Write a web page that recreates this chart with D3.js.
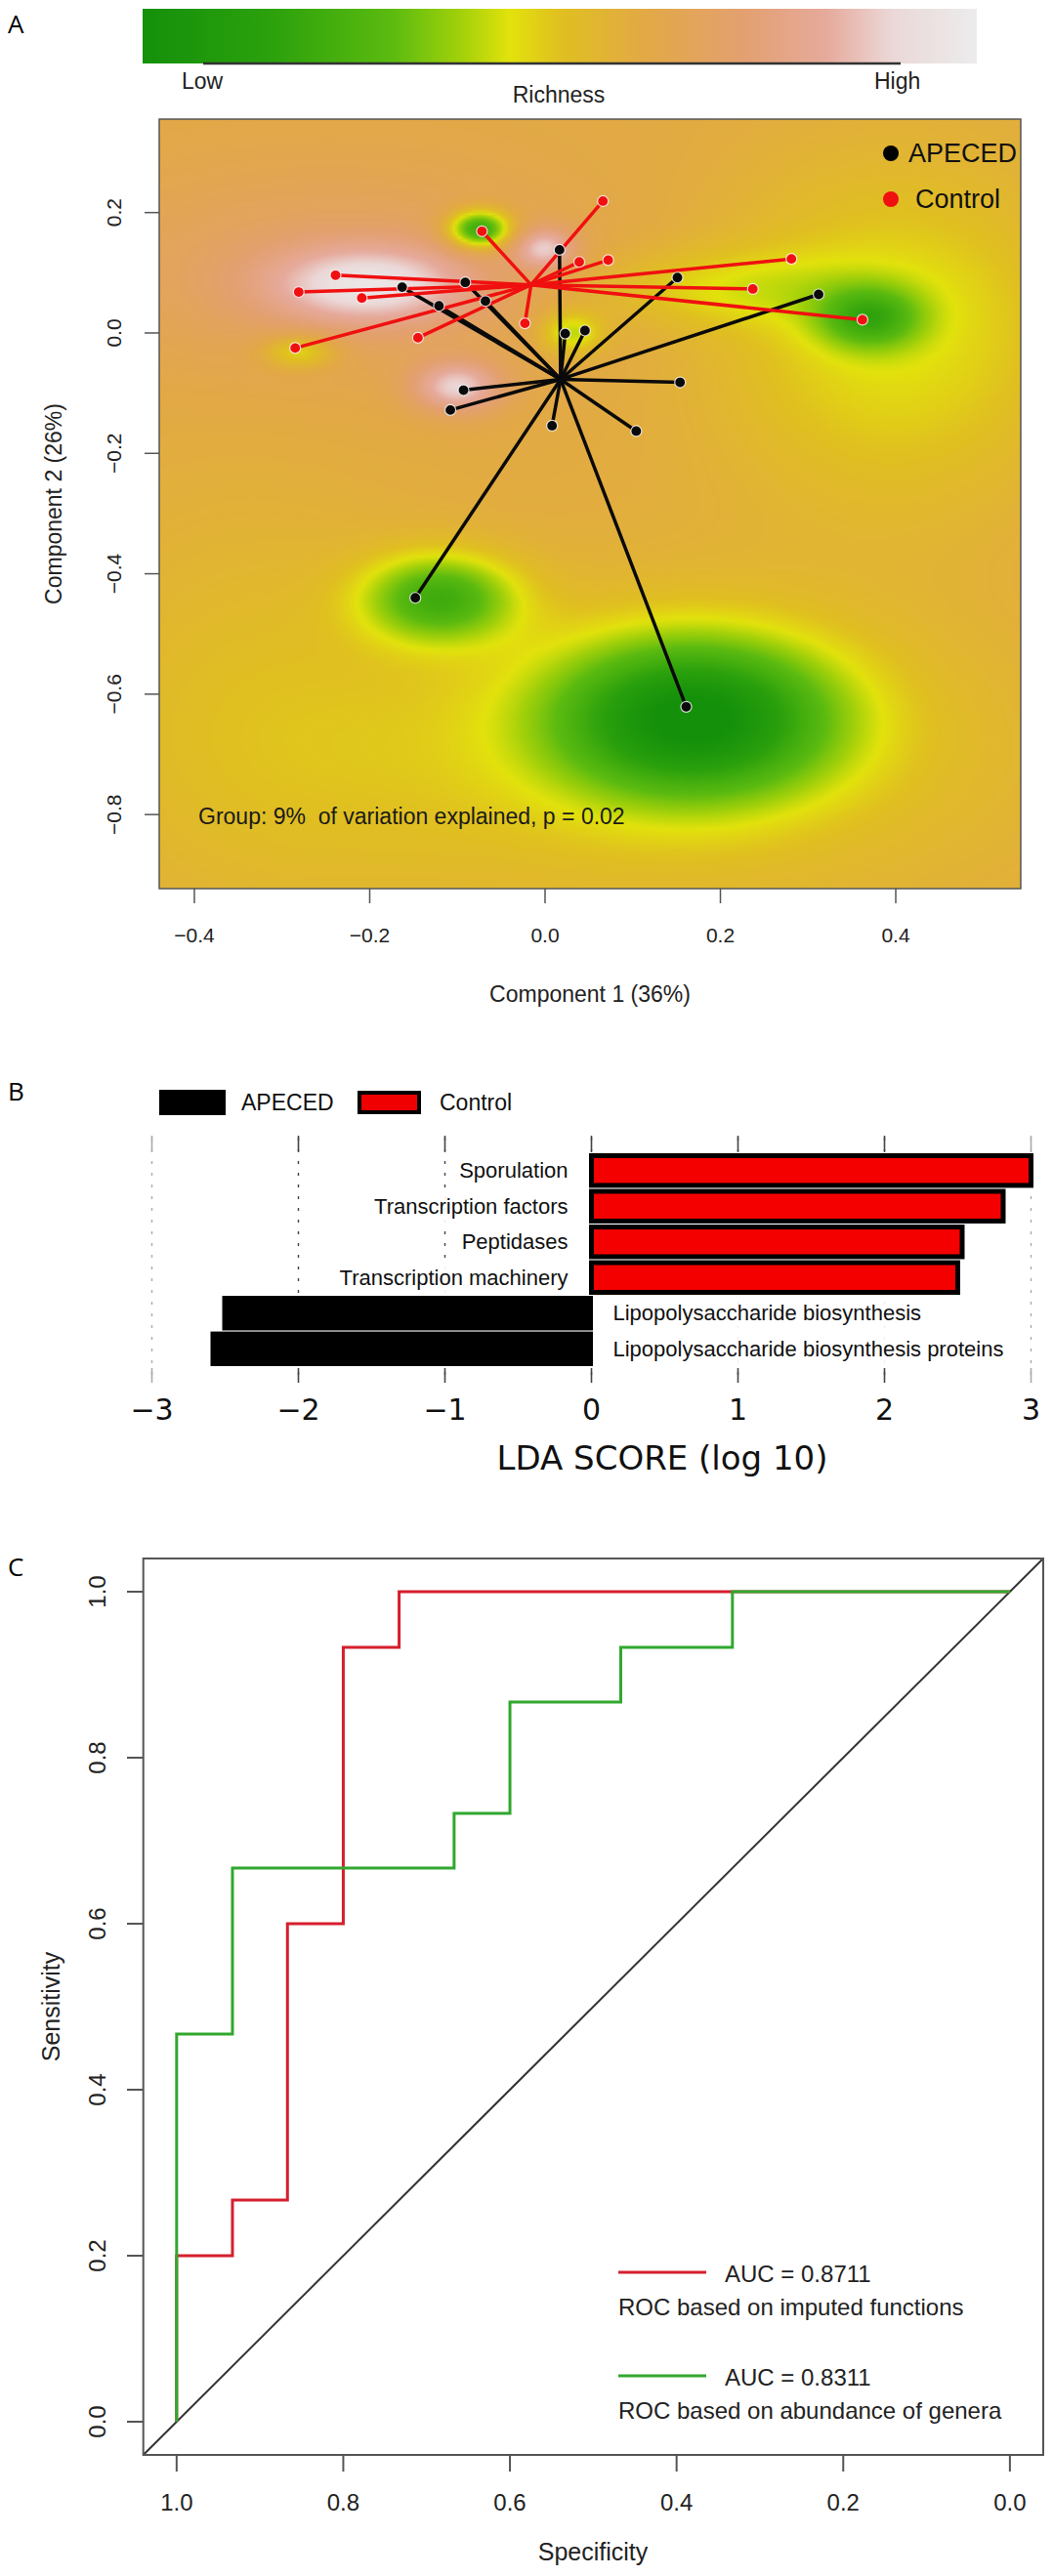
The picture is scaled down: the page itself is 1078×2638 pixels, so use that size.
<!DOCTYPE html>
<html><head><meta charset="utf-8">
<script src="https://cdn.jsdelivr.net/npm/d3@7"></script>
<style>body{margin:0;background:#fff} svg{display:block}</style>
</head><body>
<svg id="fig" width="1078" height="2638"></svg>
<script>
// ================= DATA =================
// Panel A : PCoA of imputed functions
const richnessLabels = ["Low", "Richness", "High"];
const richnessStops  = [0, 0.15, 0.3, 0.38, 0.44, 0.5, 0.6, 0.72, 0.82, 0.9, 1];
const richnessColors = ["#14900a", "#2aa00c", "#5cbb10", "#a0d00a", "#e2e20c", "#e0c020", "#e2a945", "#e3a070", "#e6aa9c", "#ebd8d8", "#ececec"];
const pcoaXTicks = [-0.4, -0.2, 0.0, 0.2, 0.4];
const pcoaYTicks = [0.2, 0.0, -0.2, -0.4, -0.6, -0.8];
const apecedX = [0.0165, 0.023, 0.0455, -0.093, -0.108, 0.008, -0.163, -0.091, -0.121, -0.068, 0.151, 0.312, 0.154, -0.148, 0.161, 0.104];
const apecedY = [0.138, -0.001, 0.004, -0.095, -0.128, -0.154, 0.076, 0.084, 0.045, 0.053, 0.092, 0.064, -0.082, -0.440, -0.621, -0.163];
const controlX = [-0.072, 0.066, -0.239, -0.281, -0.209, -0.285, -0.145, -0.023, 0.039, 0.072, 0.281, 0.237, 0.362];
const controlY = [0.169, 0.219, 0.096, 0.068, 0.058, -0.025, -0.008, 0.016, 0.118, 0.121, 0.123, 0.073, 0.022];
const apecedCentroid  = [0.0177, -0.077];
const controlCentroid = [-0.016, 0.080];
const pcoaNote = "Group: 9%\u00a0 of variation explained, p = 0.02";
// richness surface: base level + bumps (x, y, spreadX, spreadY, amplitude)
const richnessBase = 0.6;
const bumpX   = [-0.25, 0.40, 0.10, -0.35, -0.20, 0.00, -0.10, -0.075, 0.37, 0.20, -0.28, 0.03, -0.12, 0.17];
const bumpY   = [0.10, 0.00, -0.70, -0.60, 0.08, 0.14, -0.09, 0.172, 0.025, 0.075, -0.03, 0.00, -0.44, -0.64];
const bumpSX  = [0.20, 0.15, 0.35, 0.15, 0.08, 0.025, 0.035, 0.025, 0.04, 0.12, 0.03, 0.025, 0.06, 0.11];
const bumpSY  = [0.12, 0.20, 0.20, 0.30, 0.045, 0.025, 0.03, 0.022, 0.035, 0.045, 0.02, 0.025, 0.05, 0.09];
const bumpAmp = [0.10, -0.16, -0.12, -0.05, 0.28, 0.25, 0.28, -0.45, -0.26, -0.11, -0.18, -0.20, -0.33, -0.52];

// Panel B : LEfSe
const ldaFeatures = ["Sporulation", "Transcription factors", "Peptidases", "Transcription machinery", "Lipopolysaccharide biosynthesis", "Lipopolysaccharide biosynthesis proteins"];
const ldaScores = [3.00, 2.81, 2.53, 2.50, -2.52, -2.60];
const ldaGroups = ["Control", "Control", "Control", "Control", "APECED", "APECED"];
const ldaTicks = [-3, -2, -1, 0, 1, 2, 3];
const groupNames = ["APECED", "Control"];

// Panel C : ROC curves
const rocTicks = [1.0, 0.8, 0.6, 0.4, 0.2, 0.0];
const rocFuncSpec = [1, 1, 0.933, 0.933, 0.867, 0.867, 0.8, 0.8, 0.733, 0.733, 0];
const rocFuncSens = [0, 0.2, 0.2, 0.267, 0.267, 0.6, 0.6, 0.933, 0.933, 1, 1];
const rocGenSpec = [1, 1, 0.933, 0.933, 0.667, 0.667, 0.6, 0.6, 0.467, 0.467, 0.333, 0.333, 0];
const rocGenSens = [0, 0.467, 0.467, 0.667, 0.667, 0.733, 0.733, 0.867, 0.867, 0.933, 0.933, 1, 1];
const rocLegend = [
  {auc: "AUC = 0.8711", desc: "ROC based on imputed functions"},
  {auc: "AUC = 0.8311", desc: "ROC based on abundance of genera"}
];

// ================= DRAW =================
const svg = d3.select("#fig");
const SANS = "'Liberation Sans', Arial, Helvetica, sans-serif";
const PANEL = "'Open Sans', 'Noto Sans', sans-serif";

// ---------- Panel A ----------
svg.append("text").attr("x", 8).attr("y", 34).attr("font-family", PANEL).attr("font-size", 26).text("A");

const color = d3.scaleLinear().domain(richnessStops).range(richnessColors).clamp(true);

// colorbar
const cb = {x0: 146, x1: 1000, y0: 9, y1: 65};
const defs = svg.append("defs");
const grad = defs.append("linearGradient").attr("id", "cbar").attr("x1", "0%").attr("x2", "100%");
d3.range(0, 1.0001, 0.02).forEach(t => grad.append("stop").attr("offset", (t * 100) + "%").attr("stop-color", color(t)));
svg.append("rect").attr("x", cb.x0).attr("y", cb.y0).attr("width", cb.x1 - cb.x0).attr("height", cb.y1 - cb.y0).attr("fill", "url(#cbar)");
svg.append("line").attr("x1", 208).attr("x2", 922).attr("y1", cb.y1).attr("y2", cb.y1).attr("stroke", "#333").attr("stroke-width", 2.5);
svg.append("text").attr("x", 186).attr("y", 91).attr("font-family", SANS).attr("font-size", 23).attr("fill", "#222").text(richnessLabels[0]);
svg.append("text").attr("x", 572).attr("y", 105).attr("text-anchor", "middle").attr("font-family", SANS).attr("font-size", 23).attr("fill", "#222").text(richnessLabels[1]);
svg.append("text").attr("x", 895).attr("y", 91).attr("font-family", SANS).attr("font-size", 23).attr("fill", "#222").text(richnessLabels[2]);

const pa = {l: 163, r: 1045, t: 122, b: 910};
const xA = d3.scaleLinear().domain([-0.4401, 0.5426]).range([pa.l, pa.r]);
const yA = d3.scaleLinear().domain([-0.923, 0.3552]).range([pa.b, pa.t]);

// richness surface
(function () {
  const cw = Math.round((pa.r - pa.l) / 3), ch = Math.round((pa.b - pa.t) / 3);
  const canvas = document.createElement("canvas");
  canvas.width = cw; canvas.height = ch;
  const ctx = canvas.getContext("2d");
  const img = ctx.createImageData(cw, ch);
  for (let j = 0; j < ch; j++) {
    const dy = yA.invert(pa.t + (j + 0.5) * (pa.b - pa.t) / ch);
    for (let i = 0; i < cw; i++) {
      const dx = xA.invert(pa.l + (i + 0.5) * (pa.r - pa.l) / cw);
      let v = richnessBase;
      for (let k = 0; k < bumpX.length; k++) {
        const u = (dx - bumpX[k]) / bumpSX[k], w = (dy - bumpY[k]) / bumpSY[k];
        v += bumpAmp[k] * Math.exp(-(u * u + w * w) / 2);
      }
      const c = d3.rgb(color(Math.max(0, Math.min(1, v))));
      const o = (j * cw + i) * 4;
      img.data[o] = c.r; img.data[o + 1] = c.g; img.data[o + 2] = c.b; img.data[o + 3] = 255;
    }
  }
  ctx.putImageData(img, 0, 0);
  svg.append("image").attr("x", pa.l).attr("y", pa.t).attr("width", pa.r - pa.l).attr("height", pa.b - pa.t)
    .attr("preserveAspectRatio", "none").attr("href", canvas.toDataURL());
})();

// spider lines
const gA = svg.append("g");
function spider(xs, ys, cen, col) {
  xs.forEach((x, i) => {
    gA.append("line").attr("x1", xA(cen[0])).attr("y1", yA(cen[1])).attr("x2", xA(x)).attr("y2", yA(ys[i]))
      .attr("stroke", col).attr("stroke-width", 3.5).attr("stroke-linecap", "round");
  });
}
function pts(xs, ys, col) {
  xs.forEach((x, i) => {
    gA.append("circle").attr("cx", xA(x)).attr("cy", yA(ys[i])).attr("r", 5.5)
      .attr("fill", col).attr("stroke", "#fff").attr("stroke-width", 1.2).attr("stroke-opacity", 0.8);
  });
}
spider(apecedX, apecedY, apecedCentroid, "#0a0a0a");
spider(controlX, controlY, controlCentroid, "#f01010");
pts(apecedX, apecedY, "#0a0a0a");
pts(controlX, controlY, "#f01010");

// legend
svg.append("circle").attr("cx", 912).attr("cy", 157).attr("r", 8).attr("fill", "#000");
svg.append("text").attr("x", 930).attr("y", 157).attr("dy", "0.35em").attr("font-family", SANS).attr("font-size", 27).attr("fill", "#111").text(groupNames[0]);
svg.append("circle").attr("cx", 912).attr("cy", 204).attr("r", 8).attr("fill", "#f01010");
svg.append("text").attr("x", 937).attr("y", 204).attr("dy", "0.35em").attr("font-family", SANS).attr("font-size", 27).attr("fill", "#111").text(groupNames[1]);

svg.append("text").attr("x", 203).attr("y", 836).attr("dy", "0.35em").attr("font-family", SANS).attr("font-size", 23).attr("fill", "#1a1a1a").text(pcoaNote);

// box + axes
svg.append("rect").attr("x", pa.l).attr("y", pa.t).attr("width", pa.r - pa.l).attr("height", pa.b - pa.t)
  .attr("fill", "none").attr("stroke", "#555").attr("stroke-width", 1.5);
pcoaXTicks.forEach(t => {
  svg.append("line").attr("x1", xA(t)).attr("x2", xA(t)).attr("y1", pa.b).attr("y2", pa.b + 15).attr("stroke", "#555").attr("stroke-width", 1.5);
  svg.append("text").attr("x", xA(t)).attr("y", 958).attr("dy", "0.35em").attr("text-anchor", "middle")
    .attr("font-family", SANS).attr("font-size", 21).attr("fill", "#222").text(d3.format(".1f")(t).replace("-", "\u2212"));
});
pcoaYTicks.forEach(t => {
  svg.append("line").attr("x1", pa.l - 15).attr("x2", pa.l).attr("y1", yA(t)).attr("y2", yA(t)).attr("stroke", "#555").attr("stroke-width", 1.5);
  svg.append("text").attr("transform", `translate(117,${yA(t)}) rotate(-90)`).attr("dy", "0.35em").attr("text-anchor", "middle")
    .attr("font-family", SANS).attr("font-size", 21).attr("fill", "#222").text(d3.format(".1f")(t).replace("-", "\u2212"));
});
svg.append("text").attr("x", (pa.l + pa.r) / 2).attr("y", 1018).attr("dy", "0.35em").attr("text-anchor", "middle")
  .attr("font-family", SANS).attr("font-size", 23).attr("fill", "#222").text("Component 1 (36%)");
svg.append("text").attr("transform", `translate(55,${(pa.t + pa.b) / 2}) rotate(-90)`).attr("dy", "0.35em").attr("text-anchor", "middle")
  .attr("font-family", SANS).attr("font-size", 23).attr("fill", "#222").text("Component 2 (26%)");

// ---------- Panel B ----------
svg.append("text").attr("x", 8).attr("y", 1127).attr("font-family", PANEL).attr("font-size", 26).text("B");
const xB = d3.scaleLinear().domain([-3, 3]).range([155.5, 1055.5]);
const yB = d3.scaleBand().domain(ldaFeatures).range([1181, 1399]).paddingInner(0.03);

// legend
svg.append("rect").attr("x", 163).attr("y", 1116).attr("width", 68).attr("height", 26).attr("fill", "#000");
svg.append("text").attr("x", 247).attr("y", 1129).attr("dy", "0.35em").attr("font-family", SANS).attr("font-size", 23).attr("fill", "#111").text(groupNames[0]);
svg.append("rect").attr("x", 368).attr("y", 1119).attr("width", 61).attr("height", 20).attr("fill", "#f00000").attr("stroke", "#000").attr("stroke-width", 4);
svg.append("text").attr("x", 450).attr("y", 1129).attr("dy", "0.35em").attr("font-family", SANS).attr("font-size", 23).attr("fill", "#111").text(groupNames[1]);

// grid
ldaTicks.forEach(t => {
  const c = Math.abs(t) === 3 ? "#aaa" : "#444";
  svg.append("line").attr("x1", xB(t)).attr("x2", xB(t)).attr("y1", 1165).attr("y2", 1410)
    .attr("stroke", c).attr("stroke-width", 1.4).attr("stroke-dasharray", "3,9");
  svg.append("line").attr("x1", xB(t)).attr("x2", xB(t)).attr("y1", 1163).attr("y2", 1179).attr("stroke", c).attr("stroke-width", 1.6);
  svg.append("line").attr("x1", xB(t)).attr("x2", xB(t)).attr("y1", 1401).attr("y2", 1416).attr("stroke", c).attr("stroke-width", 1.6);
});

// labels with white background
const gLab = svg.append("g");
ldaFeatures.forEach((f, i) => {
  const pos = ldaScores[i] > 0;
  const t = gLab.append("text").attr("x", pos ? xB(0) - 24 : xB(0) + 22).attr("y", yB(f) + yB.bandwidth() / 2).attr("dy", "0.35em")
    .attr("text-anchor", pos ? "end" : "start").attr("font-family", SANS).attr("font-size", 22).attr("fill", "#111").text(f);
  const bb = t.node().getBBox();
  gLab.insert("rect", "text").attr("x", bb.x - 4).attr("y", yB(f) + 1).attr("width", bb.width + 8).attr("height", yB.bandwidth() - 2)
    .attr("fill", "#fff").attr("fill-opacity", 0.92);
});

// bars
ldaFeatures.forEach((f, i) => {
  const v = ldaScores[i];
  if (ldaGroups[i] === "Control") {
    svg.append("rect").attr("x", xB(0)).attr("y", yB(f) + 2.5).attr("width", xB(v) - xB(0)).attr("height", yB.bandwidth() - 5)
      .attr("fill", "#f50000").attr("stroke", "#000").attr("stroke-width", 5);
  } else {
    svg.append("rect").attr("x", xB(v)).attr("y", yB(f)).attr("width", xB(0) - xB(v) + 1.5).attr("height", yB.bandwidth())
      .attr("fill", "#000");
  }
});

ldaTicks.forEach(t => {
  svg.append("text").attr("x", xB(t)).attr("y", 1443).attr("dy", "0.36em").attr("text-anchor", "middle")
    .attr("font-family", "'DejaVu Sans', sans-serif").attr("font-size", 30).attr("fill", "#111")
    .text(t < 0 ? "\u2212" + Math.abs(t) : String(t));
});
svg.append("text").attr("x", 678).attr("y", 1493).attr("dy", "0.36em").attr("text-anchor", "middle")
  .attr("font-family", "'DejaVu Sans', sans-serif").attr("font-size", 34).attr("fill", "#111").text("LDA SCORE (log 10)");

// ---------- Panel C ----------
svg.append("text").attr("x", 8).attr("y", 1614).attr("font-family", PANEL).attr("font-size", 26).text("C");
const xC = d3.scaleLinear().domain([1.04, -0.04]).range([146.7, 1068]);
const yC = d3.scaleLinear().domain([-0.04, 1.04]).range([2514, 1596]);

svg.append("line").attr("x1", xC(1.04)).attr("y1", yC(-0.04)).attr("x2", xC(-0.04)).attr("y2", yC(1.04))
  .attr("stroke", "#333").attr("stroke-width", 2);

const line = d3.line().x(d => xC(d[0])).y(d => yC(d[1]));
svg.append("path").datum(rocFuncSpec.map((s, i) => [s, rocFuncSens[i]])).attr("d", line)
  .attr("fill", "none").attr("stroke", "#d51f2e").attr("stroke-width", 3);
svg.append("path").datum(rocGenSpec.map((s, i) => [s, rocGenSens[i]])).attr("d", line)
  .attr("fill", "none").attr("stroke", "#31a82f").attr("stroke-width", 3);

svg.append("rect").attr("x", 146.7).attr("y", 1596).attr("width", 1068 - 146.7).attr("height", 2514 - 1596)
  .attr("fill", "none").attr("stroke", "#555").attr("stroke-width", 2);

rocTicks.forEach(t => {
  svg.append("line").attr("x1", xC(t)).attr("x2", xC(t)).attr("y1", 2514).attr("y2", 2531).attr("stroke", "#555").attr("stroke-width", 2);
  svg.append("text").attr("x", xC(t)).attr("y", 2563).attr("dy", "0.35em").attr("text-anchor", "middle")
    .attr("font-family", SANS).attr("font-size", 24).attr("fill", "#222").text(d3.format(".1f")(t));
  svg.append("line").attr("x1", 130).attr("x2", 146.7).attr("y1", yC(t)).attr("y2", yC(t)).attr("stroke", "#555").attr("stroke-width", 2);
  svg.append("text").attr("transform", `translate(100,${yC(t)}) rotate(-90)`).attr("dy", "0.35em").attr("text-anchor", "middle")
    .attr("font-family", SANS).attr("font-size", 24).attr("fill", "#222").text(d3.format(".1f")(t));
});
svg.append("text").attr("x", 607).attr("y", 2613).attr("dy", "0.35em").attr("text-anchor", "middle")
  .attr("font-family", SANS).attr("font-size", 25).attr("fill", "#222").text("Specificity");
svg.append("text").attr("transform", `translate(52,${(1596 + 2514) / 2}) rotate(-90)`).attr("dy", "0.35em").attr("text-anchor", "middle")
  .attr("font-family", SANS).attr("font-size", 25).attr("fill", "#222").text("Sensitivity");

const legCols = ["#d51f2e", "#31a82f"];
const legY = [2327, 2433];
rocLegend.forEach((d, i) => {
  svg.append("line").attr("x1", 633).attr("x2", 723).attr("y1", legY[i]).attr("y2", legY[i]).attr("stroke", legCols[i]).attr("stroke-width", 3);
  svg.append("text").attr("x", 742).attr("y", legY[i] + 2).attr("dy", "0.35em").attr("font-family", SANS).attr("font-size", 24).attr("fill", "#222").text(d.auc);
  svg.append("text").attr("x", 633).attr("y", legY[i] + 36).attr("dy", "0.35em").attr("font-family", SANS).attr("font-size", 24).attr("fill", "#222").text(d.desc);
});
</script>
</body></html>
